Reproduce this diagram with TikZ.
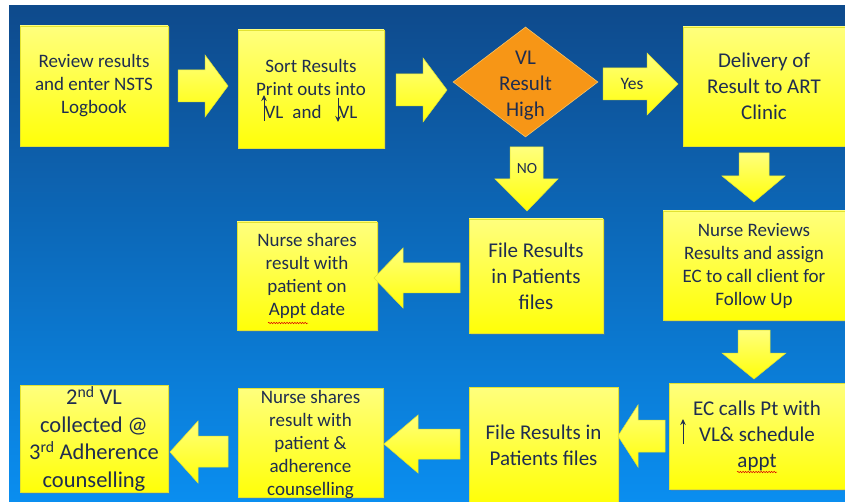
\documentclass[tikz,border=0pt]{standalone}
\usepackage{fontspec}
\setmainfont{Carlito}
\usetikzlibrary{shapes.geometric,shadows,decorations.pathmorphing,calc,arrows.meta}

\definecolor{bgtop}{RGB}{14,74,140}
\definecolor{bgbot}{RGB}{10,142,240}
\definecolor{boxtop}{RGB}{255,255,125}
\definecolor{boxbot}{RGB}{255,255,8}
\definecolor{boxedge}{RGB}{226,226,50}
\definecolor{ink}{RGB}{31,45,80}
\definecolor{decision}{RGB}{247,150,22}
\definecolor{decisionedge}{RGB}{252,196,96}

\tikzset{
  box/.style={rectangle, draw=boxedge, line width=0.6pt,
    top color=boxtop, bottom color=boxbot, text=ink, align=center,
    inner sep=0pt,
    drop shadow={shadow xshift=1.5pt, shadow yshift=-1.5pt, opacity=0.3}},
  blockarrow/.style={draw=boxedge, line width=0.5pt,
    top color=boxtop, bottom color=boxbot},
  tick/.style={draw=ink, line width=1pt, -{Stealth[length=6pt,width=5.5pt]}},
  spell/.style={draw=red!85!black, line width=0.5pt, decorate,
    decoration={snake, amplitude=0.7pt, segment length=2.6pt}},
  txtA/.style={font=\fontsize{19}{23}\selectfont},
  txtB/.style={font=\fontsize{21}{26}\selectfont},
  txtC/.style={font=\fontsize{22.5}{27.5}\selectfont},
}

\begin{document}
\begin{tikzpicture}[x=1pt, y=-1pt]
  \useasboundingbox (0,0) rectangle (845,502);
  \clip (0,0) rectangle (845,502);

  % page and blue backdrop
  \fill[white] (0,0) rectangle (845,502);
  \shade[top color=bgtop, bottom color=bgbot] (9,6) rectangle (845,502);

  % process steps, top row
  \node[box, txtA, minimum width=148pt, minimum height=120pt] (review) at (94,86)
    {Review results\\and enter NSTS\\Logbook};
  \node[box, txtA, minimum width=146pt, minimum height=118pt] (sort) at (311,89)
    {Sort Results\\Print outs into\\VL\hspace{9pt}and\hspace{17pt}VL};
  \node[diamond, draw=decisionedge, line width=0.6pt, fill=decision,
        minimum width=145pt, minimum height=110pt, inner sep=0pt,
        label={[txtB, text=ink, align=center, yshift=-4pt]center:{VL\\Result\\High}}] (high) at (525.5,82) {};
  \node[box, txtB, minimum width=162pt, minimum height=119pt] (deliver) at (764,86.5)
    {Delivery of\\Result to ART\\Clinic};

  % middle row
  \node[box, txtA, minimum width=182pt, minimum height=109pt] (assign) at (754,265.5)
    {Nurse Reviews\\Results and assign\\EC to call client for\\Follow Up};
  \node[box, txtB, minimum width=134pt, minimum height=114pt] (filemid) at (536,276)
    {File Results\\in Patients\\files};
  \node[box, txtA, minimum width=140pt, minimum height=108pt] (sharemid) at (307,276)
    {Nurse shares\\result with\\patient on\\Appt date};

  % bottom row
  \node[box, txtB, minimum width=176pt, minimum height=106pt] (call) at (757,436)
    {EC calls Pt with\\VL\& schedule\\appt};
  \node[box, txtB, minimum width=149pt, minimum height=116pt] (filebot) at (543.5,445)
    {File Results in\\Patients files};
  \node[box, minimum width=145pt, minimum height=109pt,
        label={[txtA, text=ink, align=center, yshift=-2.5pt]center:{Nurse shares\\result with\\patient \&\\adherence\\counselling}}] (sharebot) at (310.5,442.5) {};
  \node[box, txtC, minimum width=148pt, minimum height=107pt] (second) at (94,438.5)
    {2\textsuperscript{nd} VL\\collected @\\3\textsuperscript{rd} Adherence\\counselling};

  % small up/down marks inside the text
  \draw[tick] ($(sort.center)+(-47,32)$) -- ($(sort.center)+(-47,6)$);
  \draw[tick] ($(sort.center)+(27,9)$) -- ($(sort.center)+(27,33)$);
  \draw[tick] ($(call.center)+(-74,8)$) -- ($(call.center)+(-74,-17)$);

  % spell-check underlines
  \draw[spell] (268,323) -- (308,323);
  \draw[spell] (737,472) -- (777,472);

  % block arrows, left to right along the top
  \draw[blockarrow] (178,70) -- (205,70) -- (205,55) -- (228,86) -- (205,117) -- (205,102) -- (178,102) -- cycle;
  \draw[blockarrow] (396,74) -- (423,74) -- (423,58) -- (447,90) -- (423,122) -- (423,106) -- (396,106) -- cycle;
  \draw[blockarrow] (603,68) -- (647,68) -- (647,53) -- (678,84) -- (647,115) -- (647,100) -- (603,100) -- cycle;
  \node[font=\fontsize{17.5}{20}\selectfont, text=ink] (yes) at (632,84) {Yes};

  % downward block arrows
  \draw[blockarrow] (510,147) -- (543,147) -- (543,179) -- (558,179) -- (527,211) -- (495,179) -- (510,179) -- cycle;
  \node[font=\fontsize{15.5}{18}\selectfont, text=ink] (no) at (527,169) {NO};
  \draw[blockarrow] (739,153) -- (769,153) -- (769,176) -- (785,176) -- (754,202) -- (722,176) -- (739,176) -- cycle;
  \draw[blockarrow] (738,330) -- (770,330) -- (770,353) -- (786,353) -- (754,379) -- (722,353) -- (738,353) -- cycle;

  % leftward block arrows
  \draw[blockarrow] (460,263) -- (403,263) -- (403,248) -- (374,278) -- (403,308) -- (403,293) -- (460,293) -- cycle;
  \draw[blockarrow] (665,420) -- (638,420) -- (638,405) -- (618,436) -- (638,467) -- (638,452) -- (665,452) -- cycle;
  \draw[blockarrow] (460,429) -- (418,429) -- (418,415) -- (384,444) -- (418,473) -- (418,459) -- (460,459) -- cycle;
  \draw[blockarrow] (228,436) -- (198,436) -- (198,421) -- (170,452) -- (198,483) -- (198,467) -- (228,467) -- cycle;
\end{tikzpicture}
\end{document}
